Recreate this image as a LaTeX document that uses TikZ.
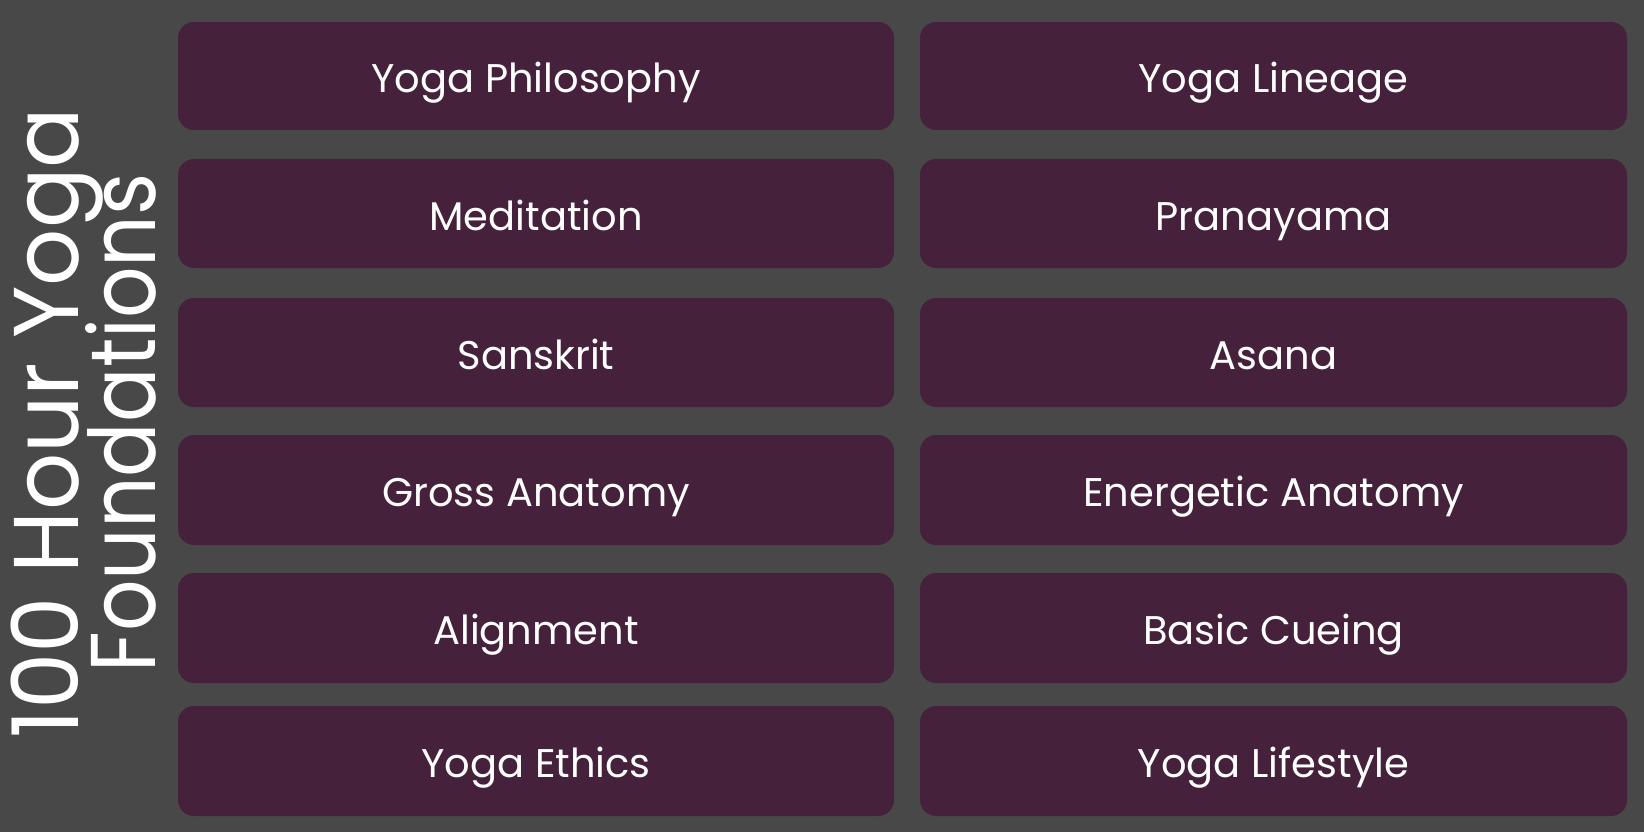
\documentclass[tikz,border=0pt]{standalone}
\usepackage{fontspec}
\usepackage{graphicx}
\setmainfont{Poppins}
\definecolor{bg}{HTML}{484848}
\definecolor{boxc}{HTML}{46213B}
\tikzset{
  topic/.style={fill=boxc, rounded corners=16pt, draw=none, text=white,
    font=\fontsize{40}{48}\selectfont, text height=33pt, text depth=0pt,
    inner sep=0pt, anchor=center},
  lcol/.style={topic, minimum width=716pt},
  rcol/.style={topic, minimum width=707pt},
  title/.style={text=white, font=\fontsize{92}{100}\selectfont, rotate=90, anchor=base, inner sep=0pt}
}
\begin{document}
\begin{tikzpicture}[x=1pt,y=-1pt]
\fill[bg] (0,0) rectangle (1644,832);
\useasboundingbox (0,0) rectangle (1644,832);
\node[lcol, minimum height=108pt] (a1) at (536,76) {Yoga Philosophy};
\node[rcol, minimum height=108pt] (b1) at (1273.5,76) {Yoga Lineage};
\node[lcol, minimum height=109pt] (a2) at (536,213.5) {Meditation};
\node[rcol, minimum height=109pt] (b2) at (1273.5,213.5) {Pranayama};
\node[lcol, minimum height=109pt] (a3) at (536,352.5) {Sanskrit};
\node[rcol, minimum height=109pt] (b3) at (1273.5,352.5) {Asana};
\node[lcol, minimum height=110pt] (a4) at (536,490) {Gross Anatomy};
\node[rcol, minimum height=110pt] (b4) at (1273.5,490) {Energetic Anatomy};
\node[lcol, minimum height=110pt] (a5) at (536,628) {Alignment};
\node[rcol, minimum height=110pt] (b5) at (1273.5,628) {Basic Cueing};
\node[lcol, minimum height=110pt] (a6) at (536,761) {Yoga Ethics};
\node[rcol, minimum height=110pt] (b6) at (1273.5,761) {Yoga Lifestyle};
\node[title] (t1) at (78,423) {\scalebox{0.975}[1]{100 Hour Yoga}};
\node[title] (t2) at (155,423) {\scalebox{0.877}[1]{Foundations}};
\end{tikzpicture}
\end{document}
